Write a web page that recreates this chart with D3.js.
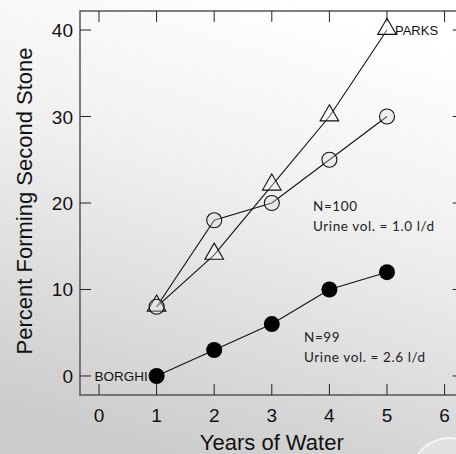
<!DOCTYPE html>
<html>
<head>
<meta charset="utf-8">
<script src="https://cdn.jsdelivr.net/npm/d3@7"></script>
<style>
  body { margin: 0; padding: 0; overflow: hidden; }
  svg { display: block; }
</style>
</head>
<body>
<div id="chart"></div>
<script>
// data
var years = [1, 2, 3, 4, 5];
var openCircle = [8, 18, 20, 25, 30];     // N=100, urine vol 1.0 l/d
var triangle = [8, 14, 22, 30, 40];       // PARKS
var filledCircle = [0, 3, 6, 10, 12];     // N=99, urine vol 2.6 l/d
var xTicks = [0, 1, 2, 3, 4, 5, 6];
var yTicks = [0, 10, 20, 30, 40];

var width = 456, height = 454;
// note: "top" is reserved on window, so prefix these
var plotLeft = 80, plotTop = 11, plotRight = 463.6, plotBottom = 395;

var svg = d3.select('#chart').append('svg')
  .attr('width', width)
  .attr('height', height);

// background gradient, white at the top to grey at the bottom-left
var defs = svg.append('defs');
var grad = defs.append('linearGradient')
  .attr('id', 'bg')
  .attr('x1', '65%').attr('y1', '0%')
  .attr('x2', '35%').attr('y2', '100%');
grad.append('stop').attr('offset', '0%').attr('stop-color', '#ffffff');
grad.append('stop').attr('offset', '40%').attr('stop-color', '#f0f0f0');
grad.append('stop').attr('offset', '100%').attr('stop-color', '#cccccc');

svg.append('rect')
  .attr('width', width).attr('height', height)
  .attr('fill', 'url(#bg)');

// faint logo bubble in the corner
svg.append('circle')
  .attr('cx', 450).attr('cy', 478).attr('r', 40)
  .attr('fill', '#e2e2e2').attr('stroke', '#f4f4f4').attr('stroke-width', 2);

var x = d3.scaleLinear().domain([-0.33, 6.33]).range([plotLeft, plotRight]);
var y = d3.scaleLinear().domain([-2.2, 42.2]).range([plotBottom, plotTop]);

// frame
svg.append('rect')
  .attr('x', plotLeft).attr('y', plotTop)
  .attr('width', plotRight - plotLeft).attr('height', plotBottom - plotTop)
  .attr('fill', 'none')
  .attr('stroke', '#555')
  .attr('stroke-width', 1.5);

var tickLen = 11;
var g = svg.append('g').attr('stroke', '#222').attr('stroke-width', 1);

// x ticks, bottom and top, pointing inward
xTicks.forEach(function(t){
  g.append('line').attr('x1', x(t)).attr('x2', x(t)).attr('y1', plotBottom).attr('y2', plotBottom - tickLen);
  g.append('line').attr('x1', x(t)).attr('x2', x(t)).attr('y1', plotTop).attr('y2', plotTop + tickLen);
});
// y ticks, left and right
yTicks.forEach(function(t){
  g.append('line').attr('x1', plotLeft).attr('x2', plotLeft + tickLen).attr('y1', y(t)).attr('y2', y(t));
  g.append('line').attr('x1', plotRight).attr('x2', plotRight - tickLen).attr('y1', y(t)).attr('y2', y(t));
});

var font = 'Liberation Sans, Arial, sans-serif';

svg.selectAll('.xlab').data(xTicks).enter().append('text')
  .attr('x', function(d){ return x(d); })
  .attr('y', plotBottom + 27)
  .attr('text-anchor', 'middle')
  .attr('font-family', font).attr('font-size', 19)
  .attr('fill', '#111')
  .text(function(d){ return d; });

svg.selectAll('.ylab').data(yTicks).enter().append('text')
  .attr('x', plotLeft - 7)
  .attr('y', function(d){ return y(d) + 7; })
  .attr('text-anchor', 'end')
  .attr('font-family', font).attr('font-size', 19)
  .attr('fill', '#111')
  .text(function(d){ return d; });

svg.append('text')
  .attr('x', (plotLeft + plotRight) / 2)
  .attr('y', 450)
  .attr('text-anchor', 'middle')
  .attr('font-family', font).attr('font-size', 22)
  .attr('fill', '#111')
  .text('Years of Water');

svg.append('text')
  .attr('transform', 'translate(32,' + 201 + ') rotate(-90)')
  .attr('text-anchor', 'middle')
  .attr('font-family', font).attr('font-size', 22)
  .attr('fill', '#111')
  .text('Percent Forming Second Stone');

// series
var line = d3.line()
  .x(function(d){ return x(d[0]); })
  .y(function(d){ return y(d[1]); });

function pairs(vals){ return years.map(function(yr, i){ return [yr, vals[i]]; }); }

[triangle, openCircle, filledCircle].forEach(function(vals){
  svg.append('path')
    .attr('d', line(pairs(vals)))
    .attr('fill', 'none')
    .attr('stroke', '#111')
    .attr('stroke-width', 1.1);
});

var tri = d3.symbol().type(d3.symbolTriangle).size(150);
svg.selectAll('.tri').data(pairs(triangle)).enter().append('path')
  .attr('d', tri)
  .attr('transform', function(d){ return 'translate(' + x(d[0]) + ',' + (y(d[1]) - 1) + ')'; })
  .attr('fill', 'rgba(255,255,255,0.35)')
  .attr('stroke', '#111')
  .attr('stroke-width', 1.1);

svg.selectAll('.oc').data(pairs(openCircle)).enter().append('circle')
  .attr('cx', function(d){ return x(d[0]); })
  .attr('cy', function(d){ return y(d[1]); })
  .attr('r', 7.5)
  .attr('fill', 'rgba(220,220,220,0.35)')
  .attr('stroke', '#111')
  .attr('stroke-width', 1.1);

svg.selectAll('.fc').data(pairs(filledCircle)).enter().append('circle')
  .attr('cx', function(d){ return x(d[0]); })
  .attr('cy', function(d){ return y(d[1]); })
  .attr('r', 8)
  .attr('fill', '#000');

// labels
svg.append('text')
  .attr('x', x(5) + 8).attr('y', y(40) + 5)
  .attr('font-family', font).attr('font-size', 13)
  .attr('fill', '#111')
  .text('PARKS');

svg.append('text')
  .attr('x', x(-0.08)).attr('y', y(0) + 5)
  .attr('font-family', font).attr('font-size', 13.5)
  .attr('fill', '#111')
  .text('BORGHI');

var noteFont = 'Lato, "Open Sans", sans-serif';
var notes = [
  { px: 313, py: 211, lines: ['N=100', 'Urine vol. = 1.0 l/d'] },
  { px: 304, py: 342, lines: ['N=99', 'Urine vol. = 2.6 l/d'] }
];
notes.forEach(function(n){
  n.lines.forEach(function(s, i){
    svg.append('text')
      .attr('x', n.px).attr('y', n.py + i * 20)
      .attr('font-family', noteFont).attr('font-size', 13.5)
      .attr('letter-spacing', 0.6)
      .attr('fill', '#222')
      .text(s);
  });
});
</script>
</body>
</html>
